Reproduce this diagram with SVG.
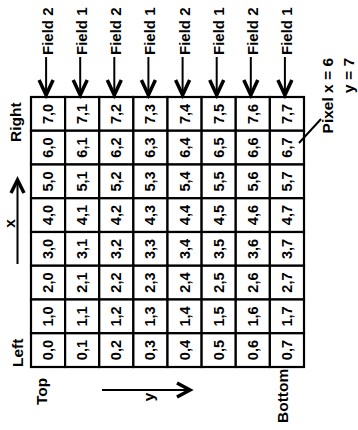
<svg xmlns="http://www.w3.org/2000/svg" width="358" height="430" viewBox="0 0 358 430">
<style>
text{font-family:"Liberation Sans",Arial,sans-serif;font-weight:bold;fill:#000}
.c{font-size:14.5px;text-anchor:middle}
.f{font-size:15px;text-anchor:start}
.l{font-size:15.5px}
rect{fill:#fff;stroke:#000;stroke-width:2.2}
.ln{stroke:#000;stroke-width:2;fill:none}
.hd{stroke:#000;stroke-width:3.5;fill:none;stroke-linejoin:miter;stroke-linecap:butt}
</style>
<g id="grid">
<g id="r0">
<g id="c7-0"><rect x="31" y="97" width="34.125" height="33.75"/><text class="c" transform="translate(53.1,113.9) rotate(-90)">7,0</text></g>
<g id="c7-1"><rect x="65.125" y="97" width="34.125" height="33.75"/><text class="c" transform="translate(87.2,113.9) rotate(-90)">7,1</text></g>
<g id="c7-2"><rect x="99.25" y="97" width="34.125" height="33.75"/><text class="c" transform="translate(121.3,113.9) rotate(-90)">7,2</text></g>
<g id="c7-3"><rect x="133.375" y="97" width="34.125" height="33.75"/><text class="c" transform="translate(155.4,113.9) rotate(-90)">7,3</text></g>
<g id="c7-4"><rect x="167.5" y="97" width="34.125" height="33.75"/><text class="c" transform="translate(189.6,113.9) rotate(-90)">7,4</text></g>
<g id="c7-5"><rect x="201.625" y="97" width="34.125" height="33.75"/><text class="c" transform="translate(223.7,113.9) rotate(-90)">7,5</text></g>
<g id="c7-6"><rect x="235.75" y="97" width="34.125" height="33.75"/><text class="c" transform="translate(257.8,113.9) rotate(-90)">7,6</text></g>
<g id="c7-7"><rect x="269.875" y="97" width="34.125" height="33.75"/><text class="c" transform="translate(291.9,113.9) rotate(-90)">7,7</text></g>
</g>
<g id="r1">
<g id="c6-0"><rect x="31" y="130.75" width="34.125" height="33.75"/><text class="c" transform="translate(53.1,147.6) rotate(-90)">6,0</text></g>
<g id="c6-1"><rect x="65.125" y="130.75" width="34.125" height="33.75"/><text class="c" transform="translate(87.2,147.6) rotate(-90)">6,1</text></g>
<g id="c6-2"><rect x="99.25" y="130.75" width="34.125" height="33.75"/><text class="c" transform="translate(121.3,147.6) rotate(-90)">6,2</text></g>
<g id="c6-3"><rect x="133.375" y="130.75" width="34.125" height="33.75"/><text class="c" transform="translate(155.4,147.6) rotate(-90)">6,3</text></g>
<g id="c6-4"><rect x="167.5" y="130.75" width="34.125" height="33.75"/><text class="c" transform="translate(189.6,147.6) rotate(-90)">6,4</text></g>
<g id="c6-5"><rect x="201.625" y="130.75" width="34.125" height="33.75"/><text class="c" transform="translate(223.7,147.6) rotate(-90)">6,5</text></g>
<g id="c6-6"><rect x="235.75" y="130.75" width="34.125" height="33.75"/><text class="c" transform="translate(257.8,147.6) rotate(-90)">6,6</text></g>
<g id="c6-7"><rect x="269.875" y="130.75" width="34.125" height="33.75"/><text class="c" transform="translate(291.9,147.6) rotate(-90)">6,7</text></g>
</g>
<g id="r2">
<g id="c5-0"><rect x="31" y="164.5" width="34.125" height="33.75"/><text class="c" transform="translate(53.1,181.4) rotate(-90)">5,0</text></g>
<g id="c5-1"><rect x="65.125" y="164.5" width="34.125" height="33.75"/><text class="c" transform="translate(87.2,181.4) rotate(-90)">5,1</text></g>
<g id="c5-2"><rect x="99.25" y="164.5" width="34.125" height="33.75"/><text class="c" transform="translate(121.3,181.4) rotate(-90)">5,2</text></g>
<g id="c5-3"><rect x="133.375" y="164.5" width="34.125" height="33.75"/><text class="c" transform="translate(155.4,181.4) rotate(-90)">5,3</text></g>
<g id="c5-4"><rect x="167.5" y="164.5" width="34.125" height="33.75"/><text class="c" transform="translate(189.6,181.4) rotate(-90)">5,4</text></g>
<g id="c5-5"><rect x="201.625" y="164.5" width="34.125" height="33.75"/><text class="c" transform="translate(223.7,181.4) rotate(-90)">5,5</text></g>
<g id="c5-6"><rect x="235.75" y="164.5" width="34.125" height="33.75"/><text class="c" transform="translate(257.8,181.4) rotate(-90)">5,6</text></g>
<g id="c5-7"><rect x="269.875" y="164.5" width="34.125" height="33.75"/><text class="c" transform="translate(291.9,181.4) rotate(-90)">5,7</text></g>
</g>
<g id="r3">
<g id="c4-0"><rect x="31" y="198.25" width="34.125" height="33.75"/><text class="c" transform="translate(53.1,215.1) rotate(-90)">4,0</text></g>
<g id="c4-1"><rect x="65.125" y="198.25" width="34.125" height="33.75"/><text class="c" transform="translate(87.2,215.1) rotate(-90)">4,1</text></g>
<g id="c4-2"><rect x="99.25" y="198.25" width="34.125" height="33.75"/><text class="c" transform="translate(121.3,215.1) rotate(-90)">4,2</text></g>
<g id="c4-3"><rect x="133.375" y="198.25" width="34.125" height="33.75"/><text class="c" transform="translate(155.4,215.1) rotate(-90)">4,3</text></g>
<g id="c4-4"><rect x="167.5" y="198.25" width="34.125" height="33.75"/><text class="c" transform="translate(189.6,215.1) rotate(-90)">4,4</text></g>
<g id="c4-5"><rect x="201.625" y="198.25" width="34.125" height="33.75"/><text class="c" transform="translate(223.7,215.1) rotate(-90)">4,5</text></g>
<g id="c4-6"><rect x="235.75" y="198.25" width="34.125" height="33.75"/><text class="c" transform="translate(257.8,215.1) rotate(-90)">4,6</text></g>
<g id="c4-7"><rect x="269.875" y="198.25" width="34.125" height="33.75"/><text class="c" transform="translate(291.9,215.1) rotate(-90)">4,7</text></g>
</g>
<g id="r4">
<g id="c3-0"><rect x="31" y="232" width="34.125" height="33.75"/><text class="c" transform="translate(53.1,248.9) rotate(-90)">3,0</text></g>
<g id="c3-1"><rect x="65.125" y="232" width="34.125" height="33.75"/><text class="c" transform="translate(87.2,248.9) rotate(-90)">3,1</text></g>
<g id="c3-2"><rect x="99.25" y="232" width="34.125" height="33.75"/><text class="c" transform="translate(121.3,248.9) rotate(-90)">3,2</text></g>
<g id="c3-3"><rect x="133.375" y="232" width="34.125" height="33.75"/><text class="c" transform="translate(155.4,248.9) rotate(-90)">3,3</text></g>
<g id="c3-4"><rect x="167.5" y="232" width="34.125" height="33.75"/><text class="c" transform="translate(189.6,248.9) rotate(-90)">3,4</text></g>
<g id="c3-5"><rect x="201.625" y="232" width="34.125" height="33.75"/><text class="c" transform="translate(223.7,248.9) rotate(-90)">3,5</text></g>
<g id="c3-6"><rect x="235.75" y="232" width="34.125" height="33.75"/><text class="c" transform="translate(257.8,248.9) rotate(-90)">3,6</text></g>
<g id="c3-7"><rect x="269.875" y="232" width="34.125" height="33.75"/><text class="c" transform="translate(291.9,248.9) rotate(-90)">3,7</text></g>
</g>
<g id="r5">
<g id="c2-0"><rect x="31" y="265.75" width="34.125" height="33.75"/><text class="c" transform="translate(53.1,282.6) rotate(-90)">2,0</text></g>
<g id="c2-1"><rect x="65.125" y="265.75" width="34.125" height="33.75"/><text class="c" transform="translate(87.2,282.6) rotate(-90)">2,1</text></g>
<g id="c2-2"><rect x="99.25" y="265.75" width="34.125" height="33.75"/><text class="c" transform="translate(121.3,282.6) rotate(-90)">2,2</text></g>
<g id="c2-3"><rect x="133.375" y="265.75" width="34.125" height="33.75"/><text class="c" transform="translate(155.4,282.6) rotate(-90)">2,3</text></g>
<g id="c2-4"><rect x="167.5" y="265.75" width="34.125" height="33.75"/><text class="c" transform="translate(189.6,282.6) rotate(-90)">2,4</text></g>
<g id="c2-5"><rect x="201.625" y="265.75" width="34.125" height="33.75"/><text class="c" transform="translate(223.7,282.6) rotate(-90)">2,5</text></g>
<g id="c2-6"><rect x="235.75" y="265.75" width="34.125" height="33.75"/><text class="c" transform="translate(257.8,282.6) rotate(-90)">2,6</text></g>
<g id="c2-7"><rect x="269.875" y="265.75" width="34.125" height="33.75"/><text class="c" transform="translate(291.9,282.6) rotate(-90)">2,7</text></g>
</g>
<g id="r6">
<g id="c1-0"><rect x="31" y="299.5" width="34.125" height="33.75"/><text class="c" transform="translate(53.1,316.4) rotate(-90)">1,0</text></g>
<g id="c1-1"><rect x="65.125" y="299.5" width="34.125" height="33.75"/><text class="c" transform="translate(87.2,316.4) rotate(-90)">1,1</text></g>
<g id="c1-2"><rect x="99.25" y="299.5" width="34.125" height="33.75"/><text class="c" transform="translate(121.3,316.4) rotate(-90)">1,2</text></g>
<g id="c1-3"><rect x="133.375" y="299.5" width="34.125" height="33.75"/><text class="c" transform="translate(155.4,316.4) rotate(-90)">1,3</text></g>
<g id="c1-4"><rect x="167.5" y="299.5" width="34.125" height="33.75"/><text class="c" transform="translate(189.6,316.4) rotate(-90)">1,4</text></g>
<g id="c1-5"><rect x="201.625" y="299.5" width="34.125" height="33.75"/><text class="c" transform="translate(223.7,316.4) rotate(-90)">1,5</text></g>
<g id="c1-6"><rect x="235.75" y="299.5" width="34.125" height="33.75"/><text class="c" transform="translate(257.8,316.4) rotate(-90)">1,6</text></g>
<g id="c1-7"><rect x="269.875" y="299.5" width="34.125" height="33.75"/><text class="c" transform="translate(291.9,316.4) rotate(-90)">1,7</text></g>
</g>
<g id="r7">
<g id="c0-0"><rect x="31" y="333.25" width="34.125" height="33.75"/><text class="c" transform="translate(53.1,350.1) rotate(-90)">0,0</text></g>
<g id="c0-1"><rect x="65.125" y="333.25" width="34.125" height="33.75"/><text class="c" transform="translate(87.2,350.1) rotate(-90)">0,1</text></g>
<g id="c0-2"><rect x="99.25" y="333.25" width="34.125" height="33.75"/><text class="c" transform="translate(121.3,350.1) rotate(-90)">0,2</text></g>
<g id="c0-3"><rect x="133.375" y="333.25" width="34.125" height="33.75"/><text class="c" transform="translate(155.4,350.1) rotate(-90)">0,3</text></g>
<g id="c0-4"><rect x="167.5" y="333.25" width="34.125" height="33.75"/><text class="c" transform="translate(189.6,350.1) rotate(-90)">0,4</text></g>
<g id="c0-5"><rect x="201.625" y="333.25" width="34.125" height="33.75"/><text class="c" transform="translate(223.7,350.1) rotate(-90)">0,5</text></g>
<g id="c0-6"><rect x="235.75" y="333.25" width="34.125" height="33.75"/><text class="c" transform="translate(257.8,350.1) rotate(-90)">0,6</text></g>
<g id="c0-7"><rect x="269.875" y="333.25" width="34.125" height="33.75"/><text class="c" transform="translate(291.9,350.1) rotate(-90)">0,7</text></g>
</g>
</g>
<g id="field-labels">
<text class="f" transform="translate(53.1,55) rotate(-90)">Field 2</text>
<text class="f" transform="translate(87.2,55) rotate(-90)">Field 1</text>
<text class="f" transform="translate(121.3,55) rotate(-90)">Field 2</text>
<text class="f" transform="translate(155.4,55) rotate(-90)">Field 1</text>
<text class="f" transform="translate(189.6,55) rotate(-90)">Field 2</text>
<text class="f" transform="translate(223.7,55) rotate(-90)">Field 1</text>
<text class="f" transform="translate(257.8,55) rotate(-90)">Field 2</text>
<text class="f" transform="translate(291.9,55) rotate(-90)">Field 1</text>
</g>
<g id="labels">
<text class="l" text-anchor="start" transform="translate(21,142) rotate(-90)">Right</text>
<text class="l" text-anchor="start" transform="translate(23,367) rotate(-90)">Left</text>
<text class="l" text-anchor="start" transform="translate(47,405) rotate(-90)">Top</text>
<text class="l" text-anchor="start" transform="translate(288,423) rotate(-90)">Bottom</text>
<text class="l" text-anchor="middle" transform="translate(15,223.5) rotate(-90)">x</text>
<text class="l" text-anchor="middle" transform="translate(154,397) rotate(-90)">y</text>
<text class="l" text-anchor="end" transform="translate(333,58) rotate(-90)">Pixel x = 6</text>
<text class="l" text-anchor="end" transform="translate(354,58) rotate(-90)">y = 7</text>
</g>
<g id="connectors">
<line class="ln" x1="46.1" y1="57" x2="46.1" y2="94"/><polyline class="hd" points="39.1,80 46.1,95 53.1,80"/>
<line class="ln" x1="80.2" y1="57" x2="80.2" y2="94"/><polyline class="hd" points="73.2,80 80.2,95 87.2,80"/>
<line class="ln" x1="114.3" y1="57" x2="114.3" y2="94"/><polyline class="hd" points="107.3,80 114.3,95 121.3,80"/>
<line class="ln" x1="148.4" y1="57" x2="148.4" y2="94"/><polyline class="hd" points="141.4,80 148.4,95 155.4,80"/>
<line class="ln" x1="182.6" y1="57" x2="182.6" y2="94"/><polyline class="hd" points="175.6,80 182.6,95 189.6,80"/>
<line class="ln" x1="216.7" y1="57" x2="216.7" y2="94"/><polyline class="hd" points="209.7,80 216.7,95 223.7,80"/>
<line class="ln" x1="250.8" y1="57" x2="250.8" y2="94"/><polyline class="hd" points="243.8,80 250.8,95 257.8,80"/>
<line class="ln" x1="284.9" y1="57" x2="284.9" y2="94"/><polyline class="hd" points="277.9,80 284.9,95 291.9,80"/>
<line class="ln" x1="17.5" y1="264" x2="17.5" y2="181"/><polyline class="hd" points="11,193 17.5,180 24,193"/>
<line class="ln" x1="102" y1="390" x2="189" y2="390"/><polyline class="hd" points="177,383 190,390 177,397"/>
<line class="ln" x1="299" y1="143" x2="321" y2="119"/>
</g>
</svg>
